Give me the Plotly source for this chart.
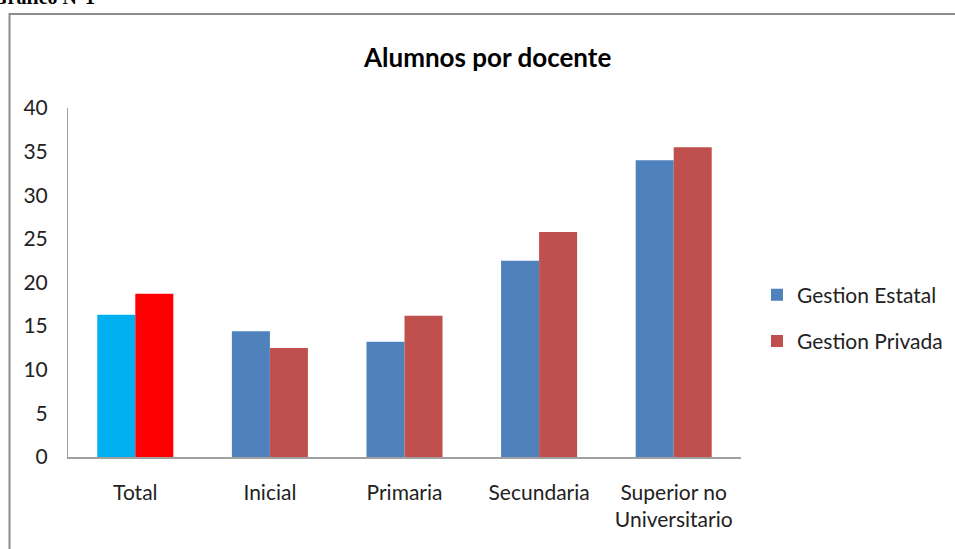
import plotly.graph_objects as go

categories = ["Total", "Inicial", "Primaria", "Secundaria", "Superior no<br>Universitario"]
estatal = [16.3, 14.4, 13.2, 22.5, 34.0]
privada = [18.7, 12.5, 16.2, 25.8, 35.5]
series_names = ["Gestion Estatal", "Gestion Privada"]
title_text = "Alumnos por docente"
header_text = "Gráfico N°1"

FONT = "Lato"
W, H = 955, 549
L, R, T, B = 68, 214, 108, 92
pw, ph = W - L - R, H - T - B

def px(x):
    return (x - L) / pw

def py(y):
    return (H - B - y) / ph

fig = go.Figure()
fig.add_trace(go.Bar(x=categories[1:], y=estatal[1:], name=series_names[0],
                     marker=dict(color="#4F81BD", line=dict(width=0)),
                     offsetgroup="e", legendgroup="e"))
fig.add_trace(go.Bar(x=categories[1:], y=privada[1:], name=series_names[1],
                     marker=dict(color="#C0504D", line=dict(width=0)),
                     offsetgroup="p", legendgroup="p"))
fig.add_trace(go.Bar(x=categories[:1], y=estatal[:1], name=series_names[0],
                     marker=dict(color="#00B0F0", line=dict(width=0)),
                     offsetgroup="e", showlegend=False))
fig.add_trace(go.Bar(x=categories[:1], y=privada[:1], name=series_names[1],
                     marker=dict(color="#FF0000", line=dict(width=0)),
                     offsetgroup="p", showlegend=False))

fig.update_layout(
    width=W, height=H,
    margin=dict(l=L, r=R, t=T, b=B, autoexpand=False),
    paper_bgcolor="white", plot_bgcolor="white",
    barmode="group", bargap=0.435, bargroupgap=0,
    font=dict(family=FONT, size=21, color="#222222"),
    hovermode=False,
    legend=dict(x=px(757), y=py(318), xanchor="left", yanchor="middle",
                font=dict(family=FONT, size=21, color="#222222"),
                tracegroupgap=16, bgcolor="rgba(0,0,0,0)"),
    xaxis=dict(categoryorder="array", categoryarray=categories,
               showline=True, linecolor="#A0A0A0", linewidth=1.5,
               ticks="", showgrid=False, tickfont=dict(family=FONT, size=21),
               ticklabelstandoff=16),
    yaxis=dict(range=[0, 40], dtick=5, showline=True, linecolor="#A0A0A0", linewidth=1,
               ticks="", showgrid=False, zeroline=False,
               tickfont=dict(family=FONT, size=21), ticklabelstandoff=15),
)

fig.add_annotation(text="<b>" + title_text + "</b>", xref="paper", yref="paper",
                   x=px(487), y=py(57), xanchor="center", yanchor="middle",
                   showarrow=False, font=dict(family=FONT, size=26, color="#000000"))
fig.add_annotation(text="<b>" + header_text + "</b>", xref="paper", yref="paper",
                   x=px(-10), y=py(-3), xanchor="left", yanchor="middle",
                   showarrow=False, font=dict(family="Liberation Serif", size=20, color="#000000"))
fig.add_shape(type="rect", xref="paper", yref="paper",
              x0=px(9.5), y0=py(600), x1=px(1050), y1=py(14),
              line=dict(color="#8C8C8C", width=2), fillcolor="rgba(0,0,0,0)", layer="below")

fig.write_html("out.html", config={"displayModeBar": False, "staticPlot": True},
               post_script="document.body.style.margin='0';document.body.style.overflow='hidden';")
